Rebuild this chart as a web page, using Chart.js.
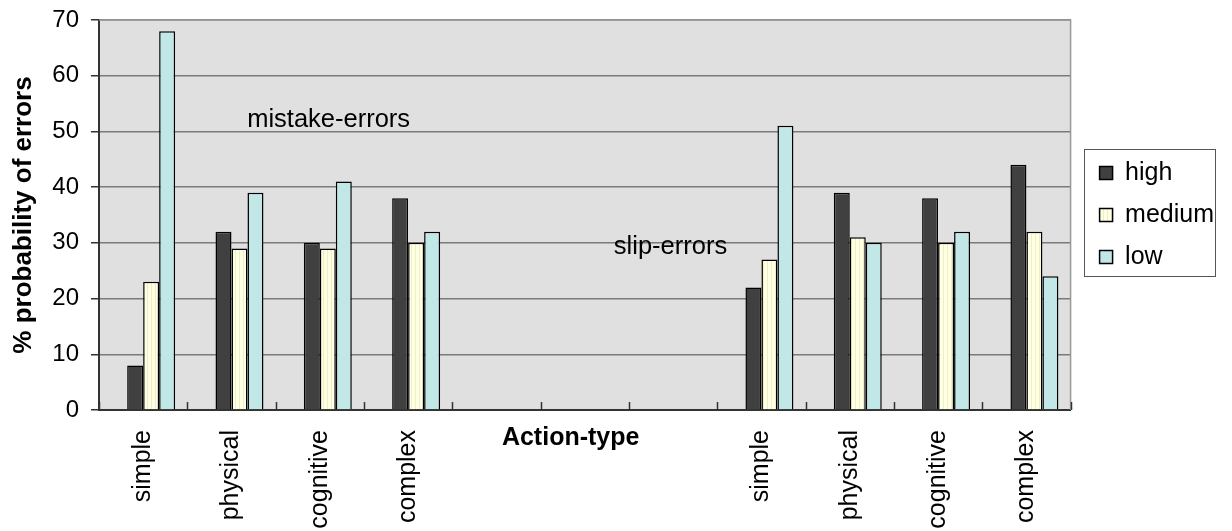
<!DOCTYPE html>
<html>
<head>
<meta charset="utf-8">
<script src="https://cdn.jsdelivr.net/npm/chart.js@4/dist/chart.umd.min.js"></script>
<style>
  body { margin: 0; background: #fff; }
  canvas { display: block; }
</style>
</head>
<body>
<canvas id="errorsChart" width="1232" height="531"></canvas>
<script>
// action types on the x axis, three empty slots between the two groups
const categories = ['simple', 'physical', 'cognitive', 'complex', '', '', '', 'simple', 'physical', 'cognitive', 'complex'];
const seriesNames = ['high', 'medium', 'low'];
const highValues = [8, 32, 30, 38, null, null, null, 22, 39, 38, 44];
const mediumValues = [23, 29, 29, 30, null, null, null, 27, 31, 30, 32];
const lowValues = [68, 39, 41, 32, null, null, null, 51, 30, 32, 24];
const yTicks = [0, 10, 20, 30, 40, 50, 60, 70];
const groupLabels = ['mistake-errors', 'slip-errors'];
const xTitle = 'Action-type';
const yTitle = '% probability of errors';

Chart.defaults.font.family = "'Liberation Sans', Arial, sans-serif";
Chart.defaults.color = '#000';

// faint vertical stripes like the medium bars in the original
function stripes(base, line) {
    const c = document.createElement('canvas');
    c.width = 4; c.height = 4;
    const g = c.getContext('2d');
    g.fillStyle = base;
    g.fillRect(0, 0, 4, 4);
    g.fillStyle = line;
    g.fillRect(3, 0, 1, 4);
    return g.createPattern(c, 'repeat');
}

const decor = {
    id: 'decor',
    beforeDraw(chart) {
        const { ctx, chartArea: a } = chart;
        ctx.save();
        ctx.fillStyle = '#E0E0E0';
        ctx.fillRect(a.left, a.top, a.right - a.left, a.bottom - a.top);
        ctx.restore();
    },
    afterDraw(chart) {
        const { ctx, chartArea: a } = chart;
        const x = chart.scales.x, y = chart.scales.y;
        ctx.save();

        // top / right frame of the plot
        ctx.strokeStyle = '#999';
        ctx.lineWidth = 1.5;
        ctx.beginPath();
        ctx.moveTo(a.left, a.top);
        ctx.lineTo(a.right, a.top);
        ctx.lineTo(a.right, a.bottom);
        ctx.stroke();

        // tick marks between categories, pointing up into the plot
        ctx.strokeStyle = '#333';
        ctx.lineWidth = 1.5;
        for (let i = 0; i <= categories.length; i++) {
            const px = Math.round(x.getPixelForValue(i - 0.5)) + 0.5;
            ctx.beginPath();
            ctx.moveTo(px, a.bottom);
            ctx.lineTo(px, a.bottom - 8);
            ctx.stroke();
        }

        // x axis title sits between the tick labels
        ctx.fillStyle = '#000';
        ctx.font = "bold 25px 'Liberation Sans', Arial, sans-serif";
        ctx.textAlign = 'center';
        ctx.textBaseline = 'alphabetic';
        ctx.fillText(xTitle, x.getPixelForValue(4.84), a.bottom + 35);

        // group labels inside the plot
        ctx.font = "25.5px 'Liberation Sans', Arial, sans-serif";
        ctx.textBaseline = 'middle';
        ctx.fillText(groupLabels[0], x.getPixelForValue(2.10), y.getPixelForValue(52));
        ctx.fillText(groupLabels[1], x.getPixelForValue(5.97), y.getPixelForValue(29.2));

        // frame around the legend
        const hb = chart.legend.legendHitBoxes;
        if (hb && hb.length) {
            const left = Math.min(...hb.map(h => h.left)) - 16;
            const right = Math.max(...hb.map(h => h.left + h.width)) + 1;
            const top = hb[0].top - 12;
            const bottom = hb[hb.length - 1].top + 31;
            ctx.strokeStyle = '#555';
            ctx.lineWidth = 1;
            ctx.strokeRect(Math.round(left) + 0.5, Math.round(top) + 0.5, Math.round(right - left), Math.round(bottom - top));
        }
        ctx.restore();
    }
};

const ctx = document.getElementById('errorsChart').getContext('2d');
new Chart(ctx, {
    type: 'bar',
    data: {
        labels: categories,
        datasets: [
            // empty slot so each bar group sits right of the category centre, as in the original
            { label: '', data: categories.map(() => null), backgroundColor: 'rgba(0,0,0,0)', borderWidth: 0 },
            { label: seriesNames[0], data: highValues, backgroundColor: '#404040', borderColor: '#000', borderWidth: 1.5 },
            { label: seriesNames[1], data: mediumValues, backgroundColor: stripes('#FFFFE4', '#EFEFC6'), borderColor: '#000', borderWidth: 1.5 },
            { label: seriesNames[2], data: lowValues, backgroundColor: '#C2E7E7', borderColor: '#000', borderWidth: 1.5 }
        ]
    },
    options: {
        responsive: false,
        animation: false,
        layout: { padding: { left: 8, top: 20, right: 8, bottom: 2 } },
        datasets: { bar: { categoryPercentage: 0.724, barPercentage: 1 } },
        scales: {
            x: {
                grid: { display: false, drawTicks: false },
                border: { color: '#333', width: 2 },
                ticks: {
                    autoSkip: false,
                    minRotation: 90,
                    maxRotation: 90,
                    padding: 20,
                    font: { size: 25 },
                    color: '#000'
                },
                afterFit: (s) => { s.height = 119; }
            },
            y: {
                min: 0,
                max: 70,
                afterBuildTicks: (scale) => { scale.ticks = yTicks.map(v => ({ value: v })); },
                ticks: { padding: 12, font: { size: 24 }, color: '#000' },
                grid: { color: '#7a7a7a', lineWidth: 1.5, tickLength: 8, tickColor: '#333' },
                border: { color: '#333', width: 2 },
                title: {
                    display: true,
                    text: yTitle,
                    font: { size: 26, weight: 'bold' },
                    color: '#000',
                    padding: { top: 0, bottom: 14 }
                },
                afterFit: (s) => { s.width = 91; s.paddingTop = 0; s.paddingBottom = 0; }
            },
            // empty strip between the plot and the legend
            gap: {
                position: 'right',
                display: true,
                grid: { display: false, drawTicks: false },
                border: { display: false },
                ticks: { display: false },
                afterFit: (s) => { s.width = 12; }
            }
        },
        plugins: {
            legend: {
                position: 'right',
                fullSize: false,
                labels: {
                    boxWidth: 13,
                    boxHeight: 13,
                    padding: 17,
                    font: { size: 25 },
                    color: '#000',
                    filter: (item) => item.text !== ''
                }
            },
            tooltip: { enabled: false }
        }
    },
    plugins: [decor]
});
</script>
</body>
</html>
